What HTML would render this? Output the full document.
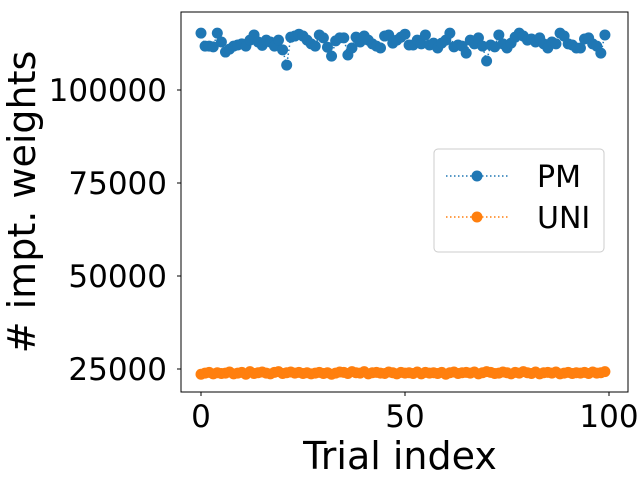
<!DOCTYPE html>
<html><head><meta charset="utf-8"><style>
body{margin:0;background:#fff;}
svg{display:block;font-family:"DejaVu Sans","Liberation Sans",sans-serif;}
</style></head><body>
<svg id="chart" width="640" height="480">
<rect x="0" y="0" width="640" height="480" fill="#fff"/>
<g id="plot"></g>
<rect x="181" y="12" width="447" height="380" fill="none" stroke="#000" stroke-width="1"/>
<g id="xticks"></g>
<g id="yticks"></g>
<text x="400" y="469" font-size="38" text-anchor="middle">Trial index</text>
<text transform="translate(35,202) rotate(-90)" font-size="38" text-anchor="middle"># impt. weights</text>
<g>
<rect x="434" y="149" width="170" height="103" rx="4" fill="#fff" fill-opacity="0.8" stroke="#ccc"/>
<g>
<line x1="446" y1="176" x2="509" y2="176" stroke="#1f77b4" stroke-width="1.5" stroke-dasharray="1.5,2.5"/>
<circle cx="477" cy="176" r="5.5" fill="#1f77b4"/>
<text x="537" y="187" font-size="30">PM</text></g>
<g>
<line x1="446" y1="217" x2="509" y2="217" stroke="#ff7f0e" stroke-width="1.5" stroke-dasharray="1.5,2.5"/>
<circle cx="477" cy="217" r="5.5" fill="#ff7f0e"/>
<text x="537" y="228" font-size="30">UNI</text></g>
</g>
</svg>
<script>
const pmValues=[115.3,111.8,111.8,111.6,115.3,112.9,110.2,111,111.8,112.1,112.4,111.8,113.4,114.8,112.9,112,113.4,112.9,111.8,113.4,110.8,106.7,114.2,114.5,115,114.5,113.4,112.4,111.8,114.8,114,111.5,109.1,113.2,114,114,109.4,111.3,114.2,112.9,114.5,113.4,112.4,111.8,111.3,114.5,114.8,112.6,113.4,114.2,115,112.1,112.1,113.4,112.4,114.8,112.1,112.6,111.3,112.6,113.4,115.3,111.6,112.1,111.8,109.9,113.4,112.4,114,111.8,107.8,112.1,111.6,114.8,112.4,111.3,112.6,114.2,115.3,114.5,113.4,113.7,112.9,114,112.4,111.3,112.9,112.4,115.3,114.5,112.4,112.1,111.3,111.3,113.7,114,112.4,111.8,109.9,114.8].map(v=>v*1000);
const uniValues=[23600,23900,24100,23700,24000,23800,23900,24200,23700,23900,24100,23600,24300,23800,24000,24200,23900,23700,24100,24300,23800,24000,24200,23900,24100,23800,24000,23700,23900,24100,23800,24000,23600,23900,24200,24100,23800,24300,24000,23900,24300,23700,24000,24100,23900,23800,24200,24000,23700,24100,23900,24000,23800,24200,23700,24100,23900,24000,23800,24100,23600,24000,24200,23800,24000,24100,23900,24200,23700,24000,24300,24100,23800,23900,24200,24000,23700,24100,23900,24300,24000,23800,24200,23700,24000,24100,23900,24200,23700,23900,24100,23800,24000,23900,24100,23800,24200,23900,24000,24300];
const xTicks=[0,50,100];
const yTicks=[25000,50000,75000,100000];
const NS="http://www.w3.org/2000/svg";
function xs(v){return 201+v*4.08;}
function ys(v){return 90-(v-100000)*93/25000;}
function mk(tag,attrs,parent){const e=document.createElementNS(NS,tag);for(const k in attrs)e.setAttribute(k,attrs[k]);parent.appendChild(e);return e;}
const plot=document.getElementById('plot');
function series(vals,color,name){
  const g=mk('g',{},plot);
  
  
  const pts=vals.map((v,i)=>xs(i)+','+ys(v)).join(' ');
  const pl=mk('polyline',{points:pts,fill:'none',stroke:color,'stroke-width':1.5,'stroke-dasharray':'1.5,2.5'},g);
  
  
  vals.forEach((v,i)=>{
    const c=mk('circle',{cx:xs(i),cy:ys(v),r:5.5,fill:color},g);
    
    
  });
}
series(pmValues,'#1f77b4','pm');
series(uniValues,'#ff7f0e','uni');
const xg=document.getElementById('xticks');
xTicks.forEach(t=>{
  const l=mk('line',{x1:xs(t),x2:xs(t),y1:392,y2:396,stroke:'#000','stroke-width':1},xg);
  
  
  const tx=mk('text',{x:xs(t),y:427,'font-size':31,'text-anchor':'middle'},xg);
  tx.textContent=t;
  
  
});
const yg=document.getElementById('yticks');
yTicks.forEach(t=>{
  const l=mk('line',{x1:177,x2:181,y1:ys(t),y2:ys(t),stroke:'#000','stroke-width':1},yg);
  
  
  const tx=mk('text',{x:167,y:ys(t)+11,'font-size':31,'text-anchor':'end'},yg);
  tx.textContent=t;
  
  
});
</script>
</body></html>
